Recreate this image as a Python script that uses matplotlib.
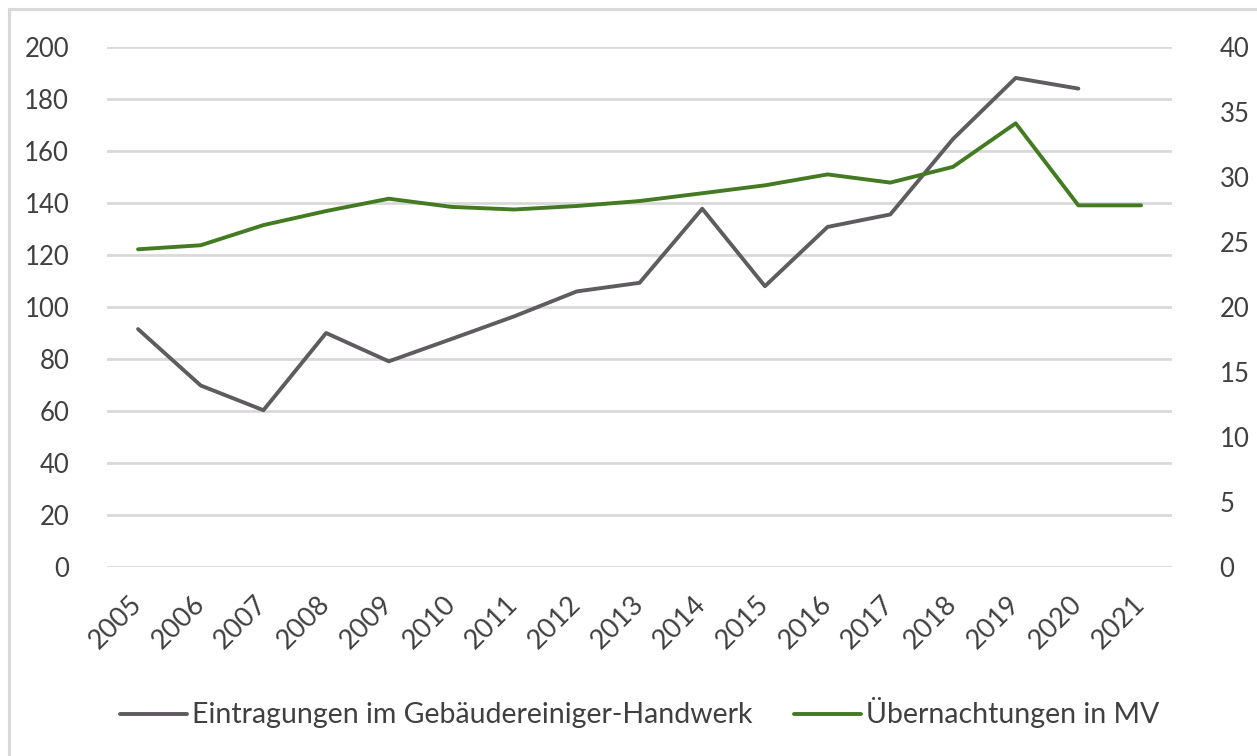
import matplotlib
matplotlib.use("Agg")
import matplotlib.pyplot as plt
from matplotlib.lines import Line2D

# Data
years = [2005, 2006, 2007, 2008, 2009, 2010, 2011, 2012, 2013,
         2014, 2015, 2016, 2017, 2018, 2019, 2020, 2021]
eintragungen = [91.5, 69.8, 60.3, 90.0, 79.1, 87.7, 96.4, 106.0, 109.3,
                137.8, 108.0, 130.8, 135.6, 164.6, 188.1, 184.0, None]
uebernachtungen = [24.44, 24.75, 26.3, 27.38, 28.33, 27.7, 27.5, 27.77, 28.15,
                   28.75, 29.36, 30.2, 29.57, 30.78, 34.13, 27.82, 27.82]
left_ticks = [0, 20, 40, 60, 80, 100, 120, 140, 160, 180, 200]
right_ticks = [0, 5, 10, 15, 20, 25, 30, 35, 40]
series_labels = ["Eintragungen im Gebäudereiniger-Handwerk", "Übernachtungen in MV"]

GRAY = "#5f5c5f"
GREEN = "#437a22"
TEXT = "#404040"
GRID = "#d9d9d9"

plt.rcParams["font.family"] = ["Lato", "DejaVu Sans"]
plt.rcParams["font.size"] = 18.5

W, H = 1257, 756
fig = plt.figure(figsize=(W / 100, H / 100), dpi=100)

# chart frame
fig.add_artist(Line2D([8.5 / W, 8.5 / W], [0, 1 - 8.5 / H], transform=fig.transFigure,
                      color=GRID, lw=2.2))
fig.add_artist(Line2D([8.5 / W, 1], [1 - 8.5 / H, 1 - 8.5 / H], transform=fig.transFigure,
                      color=GRID, lw=2.2))

left, right = 106.7 / W, 1172.4 / W
top, bottom = 1 - 47 / H, 1 - 567 / H
ax = fig.add_axes([left, bottom, right - left, top - bottom])
ax2 = ax.twinx()

x = list(range(len(years)))
ax.set_xlim(-0.5, len(years) - 0.5)
ax.set_ylim(0, 200)
ax2.set_ylim(0, 40)

ax.set_yticks(left_ticks)
ax2.set_yticks(right_ticks)
ax.yaxis.grid(True, color=GRID, lw=2.0)
ax.set_axisbelow(True)

g_x = [xi for xi, v in zip(x, eintragungen) if v is not None]
g_y = [v for v in eintragungen if v is not None]
l1, = ax.plot(g_x, g_y, color=GRAY, lw=2.8, solid_capstyle="round",
              solid_joinstyle="round", zorder=3)
l2, = ax2.plot(x, uebernachtungen, color=GREEN, lw=2.8, solid_capstyle="round",
               solid_joinstyle="round", zorder=3)

for a in (ax, ax2):
    for s in a.spines.values():
        s.set_visible(False)
    a.tick_params(length=0, colors=TEXT, labelsize=18.5)

ax.tick_params(axis="y", pad=27)
ax2.tick_params(axis="y", pad=34)

ax.set_xticks(x)
ax.set_xticklabels([str(y) for y in years], rotation=45, ha="right", va="center",
                   rotation_mode="anchor", fontsize=19.5)
ax.tick_params(axis="x", pad=24)

leg = fig.legend([l1, l2], series_labels, loc="center",
                 bbox_to_anchor=(0.509, 1 - 713 / H), ncol=2, frameon=False,
                 handlelength=2.35, handletextpad=0.18, columnspacing=1.45,
                 fontsize=20.5)
for t in leg.get_texts():
    t.set_color(TEXT)

fig.savefig("out.png", dpi=100, facecolor="white")
